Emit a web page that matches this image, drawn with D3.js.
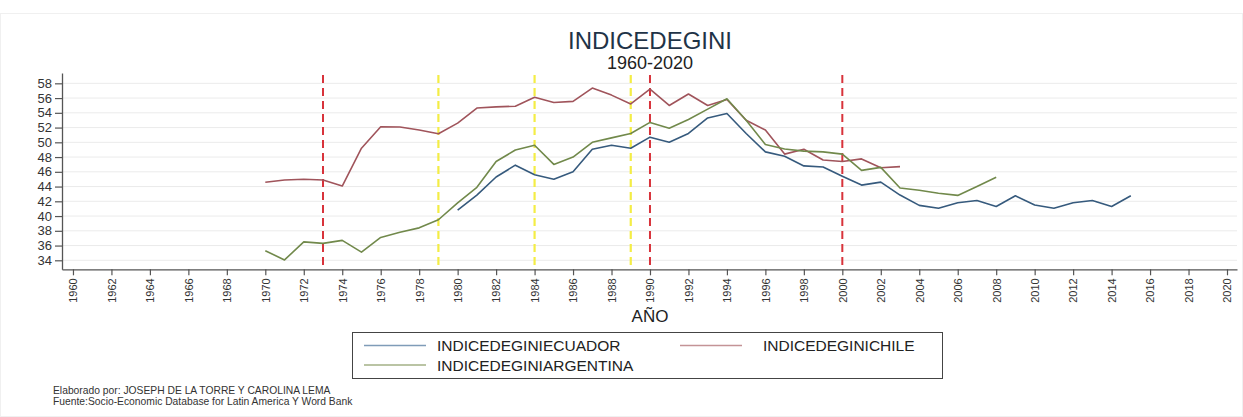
<!DOCTYPE html>
<html>
<head>
<meta charset="utf-8">
<script src="https://cdn.jsdelivr.net/npm/d3@7"></script>
<style>
  body { margin: 0; background: #fff; }
  text { font-family: "Liberation Sans", Arial, sans-serif; }
</style>
</head>
<body>
<div id="chart"></div>
<script>
// Data
var ecuadorYears = d3.range(1980, 2016);
var ecuadorValues = [40.8, 42.85, 45.3, 46.9, 45.6, 45.0, 46.0, 49.05, 49.6, 49.2,
  50.7, 50.0, 51.2, 53.3, 53.9, 51.2, 48.7, 48.1, 46.8, 46.65,
  45.4, 44.2, 44.6, 42.85, 41.45, 41.05, 41.8, 42.1, 41.3, 42.75,
  41.5, 41.05, 41.8, 42.1, 41.3, 42.75];

var chileYears = d3.range(1970, 2004);
var chileValues = [44.58, 44.9, 45.0, 44.9, 44.07, 49.2, 52.1, 52.07, 51.67, 51.17,
  52.6, 54.65, 54.8, 54.9, 56.1, 55.4, 55.55, 57.36, 56.4, 55.2,
  57.2, 55.0, 56.55, 55.0, 55.8, 53.0, 51.67, 48.4, 49.05, 47.6,
  47.4, 47.75, 46.55, 46.7];

var argentinaYears = d3.range(1970, 2009);
var argentinaValues = [35.3, 34.05, 36.5, 36.3, 36.7, 35.1, 37.1, 37.8, 38.4, 39.5,
  41.8, 43.9, 47.4, 48.95, 49.6, 47.0, 48.0, 50.0, 50.6, 51.2,
  52.7, 51.9, 53.1, 54.5, 55.9, 53.0, 49.7, 49.1, 48.8, 48.7,
  48.4, 46.2, 46.6, 43.8, 43.5, 43.1, 42.8, 44.0, 45.25];

var redLines = [1973, 1990, 2000];
var yellowLines = [1979, 1984, 1989];
var yTicks = d3.range(34, 59, 2);
var xTicks = d3.range(1960, 2021, 2);

var series = [
  { name: 'INDICEDEGINIECUADOR', years: ecuadorYears, values: ecuadorValues, color: '#365a7d', legendColor: '#7f9cb8' },
  { name: 'INDICEDEGINICHILE', years: chileYears, values: chileValues, color: '#a0545b', legendColor: '#c49396' },
  { name: 'INDICEDEGINIARGENTINA', years: argentinaYears, values: argentinaValues, color: '#71894b', legendColor: '#a3b186' }
];

var width = 1243, height = 417;
var svg = d3.select('#chart').append('svg')
  .attr('width', width).attr('height', height);

// faint frame
svg.append('rect').attr('x', 0.5).attr('y', 13.5).attr('width', width - 1).attr('height', height - 14)
  .attr('fill', 'none').attr('stroke', '#f0f0f0');

var x = d3.scaleLinear().domain([1959.43, 2020.52]).range([62, 1237]);
var y = d3.scaleLinear().domain([32.78, 59.4]).range([269.3, 73]);

// grid
svg.append('g').selectAll('line').data(yTicks).enter().append('line')
  .attr('x1', 62).attr('x2', 1237)
  .attr('y1', function (d) { return y(d); }).attr('y2', function (d) { return y(d); })
  .attr('stroke', '#ebebeb').attr('stroke-width', 1);

// axes
var yAxis = svg.append('g').attr('transform', 'translate(62,0)')
  .call(d3.axisLeft(y).tickValues(yTicks).tickSizeOuter(0).tickSizeInner(7).tickPadding(3));
var xAxis = svg.append('g').attr('transform', 'translate(0,269.3)')
  .call(d3.axisBottom(x).tickValues(xTicks).tickFormat(d3.format('d')).tickSizeOuter(0).tickSizeInner(6));
[yAxis, xAxis].forEach(function (g) {
  g.select('.domain').attr('stroke', '#555').attr('stroke-width', 1.3);
  g.selectAll('.tick line').attr('stroke', '#555').attr('stroke-width', 1.2);
  g.selectAll('.tick text').attr('fill', '#333').style('font-size', '13px');
});
xAxis.selectAll('.tick text')
  .style('font-size', '11px')
  .attr('transform', 'rotate(-90)')
  .attr('text-anchor', 'end')
  .attr('x', -9).attr('y', 0).attr('dy', '0.35em');

// reference lines
svg.append('g').selectAll('line').data(redLines).enter().append('line')
  .attr('x1', function (d) { return x(d); }).attr('x2', function (d) { return x(d); })
  .attr('y1', 75).attr('y2', 269)
  .attr('stroke', '#d8333b').attr('stroke-width', 2).attr('stroke-dasharray', '8,5');
svg.append('g').selectAll('line').data(yellowLines).enter().append('line')
  .attr('x1', function (d) { return x(d); }).attr('x2', function (d) { return x(d); })
  .attr('y1', 75).attr('y2', 269)
  .attr('stroke', '#f4ed45').attr('stroke-width', 2.2).attr('stroke-dasharray', '8,5');

// series lines
var line = d3.line()
  .x(function (d) { return x(d[0]); })
  .y(function (d) { return y(d[1]); });
series.forEach(function (s) {
  svg.append('path')
    .datum(d3.zip(s.years, s.values))
    .attr('d', line)
    .attr('fill', 'none')
    .attr('stroke', s.color)
    .attr('stroke-width', 1.6)
    .attr('stroke-linejoin', 'round');
});

// titles
svg.append('text').attr('x', 650).attr('y', 48.5).attr('text-anchor', 'middle')
  .attr('fill', '#1f3347').style('font-size', '24px').text('INDICEDEGINI');
svg.append('text').attr('x', 650).attr('y', 68.5).attr('text-anchor', 'middle')
  .attr('fill', '#222').style('font-size', '18px').text('1960-2020');
svg.append('text').attr('x', 650).attr('y', 322).attr('text-anchor', 'middle')
  .attr('fill', '#222').style('font-size', '17px').text('AÑO');

// legend
var legend = svg.append('g');
legend.append('rect').attr('x', 352.5).attr('y', 332.5).attr('width', 590).attr('height', 46)
  .attr('fill', '#fff').attr('stroke', '#444').attr('stroke-width', 1);
var legendPos = [[364, 345.5], [680, 345.5], [364, 365]];
series.forEach(function (s, i) {
  var p = legendPos[i];
  legend.append('line').attr('x1', p[0]).attr('x2', p[0] + 62)
    .attr('y1', p[1]).attr('y2', p[1])
    .attr('stroke', s.legendColor).attr('stroke-width', 1.6);
  legend.append('text').attr('x', p[0] + 73 + (i === 1 ? 10 : 0)).attr('y', p[1] + 5.5)
    .attr('fill', '#222').style('font-size', '15.5px').text(s.name);
});

// footnote
svg.append('text').attr('x', 53).attr('y', 394).attr('fill', '#333')
  .style('font-size', '10.3px').text('Elaborado por: JOSEPH DE LA TORRE Y CAROLINA LEMA');
svg.append('text').attr('x', 53).attr('y', 405).attr('fill', '#333')
  .style('font-size', '10.3px').text('Fuente:Socio-Economic Database for Latin America Y Word Bank');
</script>
</body>
</html>
